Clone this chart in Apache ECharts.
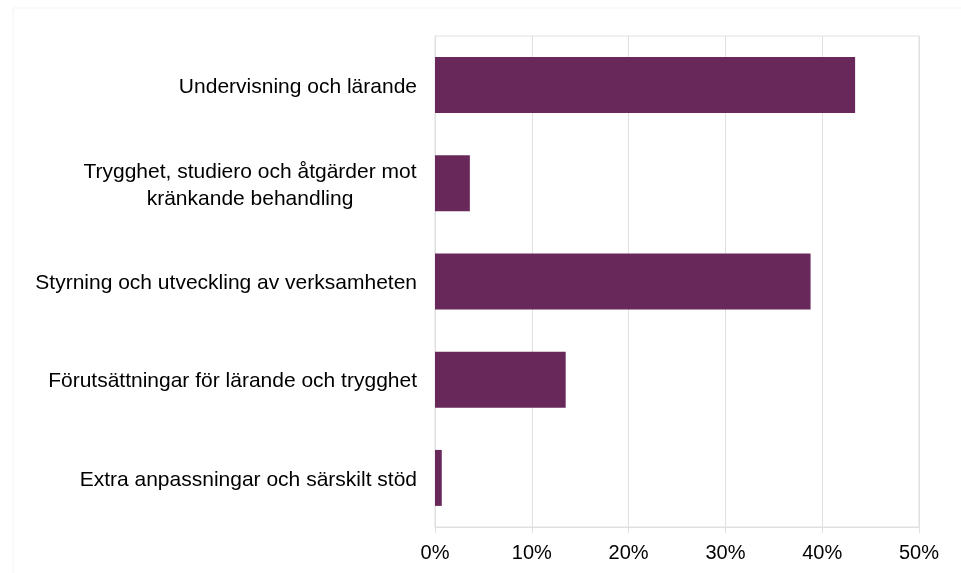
<!DOCTYPE html>
<html>
<head>
<meta charset="utf-8">
<script src="https://cdn.jsdelivr.net/npm/echarts@6/dist/echarts.min.js"></script>
<style>
  html, body { margin: 0; padding: 0; background: #fff; }
  #chart { width: 961px; height: 573px; }
</style>
</head>
<body>
<div id="chart"></div>
<script>
// kategorier uppifrån och ned
var categories = [
  'Undervisning och lärande',
  'Trygghet, studiero och åtgärder mot\nkränkande behandling',
  'Styrning och utveckling av verksamheten',
  'Förutsättningar för lärande och trygghet',
  'Extra anpassningar och särskilt stöd'
];
var shares = [43.4, 3.6, 38.8, 13.5, 0.7];
var xTicks = [0, 10, 20, 30, 40, 50];

var FONT = '"Liberation Sans", Arial, sans-serif';
var FS = 21;

// bredden på längsta raden, så att flerradiga etiketter centreras inom blocket
function textWidth(s) {
  var c = document.createElement('canvas').getContext('2d');
  c.font = FS + 'px ' + FONT;
  return Math.ceil(c.measureText(s).width);
}

var myChart = echarts.init(document.getElementById('chart'));
var option = {
  animation: false,
  graphic: [{
    type: 'rect',
    shape: { x: 13, y: 8, width: 960, height: 580 },
    style: { fill: 'none', stroke: '#f3f3f3', lineWidth: 1 },
    silent: true
  }],
  grid: {
    left: 435, right: 42, top: 36, bottom: 46,
    show: true, borderColor: '#e0e0e0', borderWidth: 1
  },
  xAxis: {
    type: 'value',
    min: xTicks[0],
    max: xTicks[xTicks.length - 1],
    interval: xTicks[1] - xTicks[0],
    axisLine: { show: true, lineStyle: { color: '#e0e0e0', width: 1 } },
    axisTick: { show: true, length: 6, lineStyle: { color: '#e0e0e0' } },
    splitLine: { show: true, lineStyle: { color: '#e0e0e0', width: 1 } },
    axisLabel: {
      formatter: '{value}%',
      color: '#000', fontFamily: FONT, fontSize: 20, margin: 16
    }
  },
  yAxis: {
    type: 'category',
    data: categories,
    inverse: true,
    axisLine: { show: true, lineStyle: { color: '#e0e0e0' } },
    axisTick: { show: false },
    axisLabel: {
      color: '#000', fontFamily: FONT, fontSize: FS, margin: 18, lineHeight: 27,
      padding: [4, 0, 0, 0],
      formatter: function (v) {
        if (v.indexOf('\n') < 0) return v;
        return v.split('\n').map(function (l) { return '{c|' + l + '}'; }).join('\n');
      },
      rich: {
        c: {
          width: textWidth('Trygghet, studiero och åtgärder mot'),
          align: 'center', color: '#000', fontFamily: FONT, fontSize: FS, lineHeight: 27
        }
      }
    }
  },
  series: [{
    type: 'bar',
    data: shares,
    barCategoryGap: '43%',
    itemStyle: { color: '#69285A' }
  }]
};
myChart.setOption(option);
</script>
</body>
</html>
